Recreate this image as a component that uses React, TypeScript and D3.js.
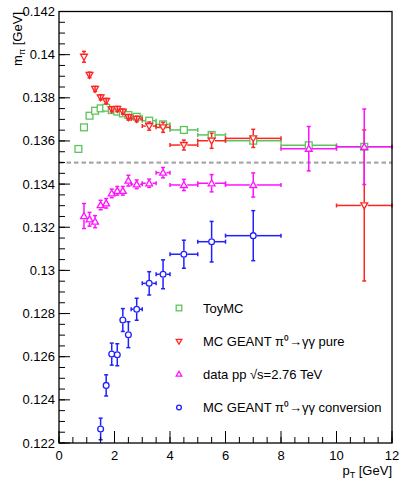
import React from "react";
import * as d3 from "d3";

// ---- data ----
const toyX = [0.7, 0.9, 1.1, 1.3, 1.5, 1.7, 1.9, 2.1, 2.3, 2.5, 2.8, 3.25, 3.75, 4.5, 5.5, 7, 9, 11];
const toyXErr = [0.1, 0.1, 0.1, 0.1, 0.1, 0.1, 0.1, 0.1, 0.1, 0.1, 0.2, 0.25, 0.25, 0.5, 0.5, 1, 1, 1];
const toyY = [0.13563, 0.13663, 0.13717, 0.1374, 0.13751, 0.13754, 0.13743, 0.13736, 0.13728, 0.1372, 0.13712, 0.13694, 0.13677, 0.13651, 0.13628, 0.13601, 0.1358, 0.13573];
const toyYErr = [0.00004, 0.00004, 0.00004, 0.00004, 0.00004, 0.00004, 0.00004, 0.00004, 0.00004, 0.00004, 0.00004, 0.00004, 0.00004, 0.00005, 0.00005, 0.00005, 0.00006, 0.00006];

const pureX = [0.9, 1.1, 1.3, 1.5, 1.7, 1.9, 2.1, 2.3, 2.5, 2.8, 3.25, 3.75, 4.5, 5.5, 7, 11];
const pureXErr = [0.1, 0.1, 0.1, 0.1, 0.1, 0.1, 0.1, 0.1, 0.1, 0.2, 0.25, 0.25, 0.5, 0.5, 1, 1];
const pureY = [0.1399, 0.13906, 0.13841, 0.13802, 0.13785, 0.13747, 0.13748, 0.13736, 0.1371, 0.13702, 0.13669, 0.13663, 0.13581, 0.13601, 0.13612, 0.13301];
const pureYErr = [0.00025, 0.00013, 0.00012, 0.00012, 0.00012, 0.00012, 0.00012, 0.00012, 0.00013, 0.00013, 0.00019, 0.00023, 0.00023, 0.00035, 0.00042, 0.0035];

const dataX = [0.9, 1.1, 1.3, 1.5, 1.7, 1.9, 2.1, 2.3, 2.5, 2.8, 3.25, 3.75, 4.5, 5.5, 7, 9, 11];
const dataXErr = [0.1, 0.1, 0.1, 0.1, 0.1, 0.1, 0.1, 0.1, 0.1, 0.2, 0.25, 0.25, 0.5, 0.5, 1, 1, 1];
const dataY = [0.13252, 0.13237, 0.13226, 0.13303, 0.13311, 0.13357, 0.13369, 0.13369, 0.13416, 0.13399, 0.13404, 0.13453, 0.13396, 0.13404, 0.13396, 0.13564, 0.13573];
const dataYErr = [0.00058, 0.00032, 0.00028, 0.00022, 0.00022, 0.0002, 0.0002, 0.0002, 0.00025, 0.0002, 0.00019, 0.00024, 0.00026, 0.0004, 0.00056, 0.00103, 0.00175];

const convX = [1.5, 1.7, 1.9, 2.1, 2.3, 2.5, 2.8, 3.25, 3.75, 4.5, 5.5, 7];
const convXErr = [0.1, 0.1, 0.1, 0.1, 0.1, 0.1, 0.2, 0.25, 0.25, 0.5, 0.5, 1];
const convY = [0.12265, 0.12467, 0.12612, 0.12609, 0.1277, 0.12702, 0.1282, 0.1294, 0.12982, 0.13075, 0.13133, 0.13161];
const convYErr = [0.0005, 0.00049, 0.00051, 0.00051, 0.00053, 0.0006, 0.00051, 0.00054, 0.00067, 0.00065, 0.00094, 0.00116];

const refMass = 0.135;
const xDomain = [0, 12];
const yDomain = [0.122, 0.142];

const legendLabels = ["ToyMC", "MC GEANT π⁰→γγ pure", "data pp √s=2.76 TeV", "MC GEANT π⁰→γγ conversion"];

// ---- layout ----
const W = 400, H = 490;
const L = 59, R = 392, T = 11.5, B = 443;
const FONT = "'Liberation Sans', Arial, Helvetica, sans-serif";

const GREEN = "#5cc45c";
const RED = "#ff2424";
const MAGENTA = "#ff10ff";
const BLUE = "#2020ff";

type Shape = "square" | "tdown" | "tup" | "circle";

function Marker({ cx, cy, shape, color, s = 3.4 }: { cx: number; cy: number; shape: Shape; color: string; s?: number }) {
  const common = { fill: "white", stroke: color, strokeWidth: 1.3 };
  if (shape === "square") return <rect x={cx - s} y={cy - s} width={2 * s} height={2 * s} {...common} />;
  if (shape === "circle") return <circle cx={cx} cy={cy} r={s * 0.85} {...common} />;
  if (shape === "tdown")
    return <polygon points={`${cx - s},${cy - s * 0.75} ${cx + s},${cy - s * 0.75} ${cx},${cy + s}`} {...common} />;
  return <polygon points={`${cx - s},${cy + s * 0.75} ${cx + s},${cy + s * 0.75} ${cx},${cy - s}`} {...common} />;
}

function Series({ xs, xe, ys, ye, x, y, color, shape, alwaysCaps = false }: any) {
  const gap = 3.4;
  const cap = 2;
  return (
    <g>
      {xs.map((xv: number, i: number) => {
        const cx = x(xv), cy = y(ys[i]);
        const x0 = x(xv - xe[i]), x1 = x(xv + xe[i]);
        const yTop = y(ys[i] + ye[i]), yBot = y(ys[i] - ye[i]);
        const segs: JSX.Element[] = [];
        const over: JSX.Element[] = [];
        if (cx - x0 > gap + 0.5) {
          segs.push(<line key="l" x1={x0} x2={cx - gap} y1={cy} y2={cy} />);
          segs.push(<line key="r" x1={cx + gap} x2={x1} y1={cy} y2={cy} />);
          segs.push(<line key="lc" x1={x0} x2={x0} y1={cy - cap} y2={cy + cap} />);
          segs.push(<line key="rc" x1={x1} x2={x1} y1={cy - cap} y2={cy + cap} />);
        }
        if (cy - yTop > gap + 0.5) {
          segs.push(<line key="t" x1={cx} x2={cx} y1={yTop} y2={cy - gap} />);
          segs.push(<line key="b" x1={cx} x2={cx} y1={cy + gap} y2={yBot} />);
          segs.push(<line key="tc" x1={cx - cap} x2={cx + cap} y1={yTop} y2={yTop} />);
          segs.push(<line key="bc" x1={cx - cap} x2={cx + cap} y1={yBot} y2={yBot} />);
        } else if (alwaysCaps) {
          over.push(<line key="t" x1={cx} x2={cx} y1={yTop} y2={yBot} />);
          over.push(<line key="tc" x1={cx - cap} x2={cx + cap} y1={yTop} y2={yTop} />);
          over.push(<line key="bc" x1={cx - cap} x2={cx + cap} y1={yBot} y2={yBot} />);
        }
        return (
          <g key={i}>
            <g stroke={color} strokeWidth={1.5}>{segs}</g>
            <Marker cx={cx} cy={cy} shape={shape} color={color} />
            <g stroke={color} strokeWidth={1.5}>{over}</g>
          </g>
        );
      })}
    </g>
  );
}

export default function App() {
  const x = d3.scaleLinear().domain(xDomain).range([L, R]);
  const y = d3.scaleLinear().domain(yDomain).range([B, T]);

  const xMajor = d3.range(0, 12.001, 2);
  const xMinor = d3.range(0, 12.001, 0.5);
  const yMajor = d3.range(0, 11).map((i) => 0.122 + i * 0.002);
  const yMinor = d3.range(0, 41).map((i) => 0.122 + i * 0.0005);
  const fmtY = (v: number) => String(+v.toFixed(3));

  const legendRows = [
    { label: legendLabels[0], shape: "square" as Shape, color: GREEN, cy: 308 },
    { label: legendLabels[1], shape: "tdown" as Shape, color: RED, cy: 341.5 },
    { label: legendLabels[2], shape: "tup" as Shape, color: MAGENTA, cy: 374 },
    { label: legendLabels[3], shape: "circle" as Shape, color: BLUE, cy: 407.5 },
  ];

  return (
    <svg width={W} height={H} style={{ position: "absolute", left: 0, top: 0, background: "white" }} fontFamily={FONT}>
      <rect x={0} y={0} width={W} height={H} fill="white" />
      {/* reference line */}
      <line x1={L} x2={R} y1={y(refMass)} y2={y(refMass)} stroke="#a8a8a8" strokeWidth={2.3} strokeDasharray="4.5,3" />

      <Series xs={toyX} xe={toyXErr} ys={toyY} ye={toyYErr} x={x} y={y} color={GREEN} shape="square" />
      <Series xs={pureX} xe={pureXErr} ys={pureY} ye={pureYErr} x={x} y={y} color={RED} shape="tdown" alwaysCaps />
      <Series xs={dataX} xe={dataXErr} ys={dataY} ye={dataYErr} x={x} y={y} color={MAGENTA} shape="tup" alwaysCaps />
      <Series xs={convX} xe={convXErr} ys={convY} ye={convYErr} x={x} y={y} color={BLUE} shape="circle" />

      {/* frame */}
      <rect x={L} y={T} width={R - L} height={B - T} fill="none" stroke="black" strokeWidth={1.3} />

      {/* ticks */}
      <g stroke="black" strokeWidth={1}>
        {xMinor.map((v) => (
          <line key={"xm" + v} x1={x(v)} x2={x(v)} y1={B} y2={B - 6} />
        ))}
        {xMajor.map((v) => (
          <line key={"xM" + v} x1={x(v)} x2={x(v)} y1={B} y2={B - 12} />
        ))}
        {yMinor.map((v, i) => (
          <line key={"ym" + i} x1={L} x2={L + 6} y1={y(v)} y2={y(v)} />
        ))}
        {yMajor.map((v, i) => (
          <line key={"yM" + i} x1={L} x2={L + 11} y1={y(v)} y2={y(v)} />
        ))}
      </g>
      <g fontSize={13} fill="black">
        {xMajor.map((v) => (
          <text key={"xl" + v} x={x(v)} y={460} textAnchor="middle">{v}</text>
        ))}
        {yMajor.map((v, i) => (
          <text key={"yl" + i} x={L - 4} y={y(v) + 4.5} textAnchor="end">{fmtY(v)}</text>
        ))}
      </g>

      {/* axis titles */}
      <text x={R} y={475} textAnchor="end" fontSize={13}>
        p<tspan fontSize={9} dy={3}>T</tspan><tspan dy={-3}> [GeV]</tspan>
      </text>
      <text transform={`translate(22,12) rotate(-90)`} textAnchor="end" fontSize={13}>
        m<tspan fontSize={9} dy={3}>π</tspan><tspan dy={-3}> [GeV]</tspan>
      </text>

      {/* legend */}
      {legendRows.map((r) => (
        <g key={r.label}>
          <Marker cx={179} cy={r.cy} shape={r.shape} color={r.color} s={2.8} />
          <text x={203} y={r.cy + 4.5} fontSize={13}>{r.label}</text>
        </g>
      ))}
    </svg>
  );
}
